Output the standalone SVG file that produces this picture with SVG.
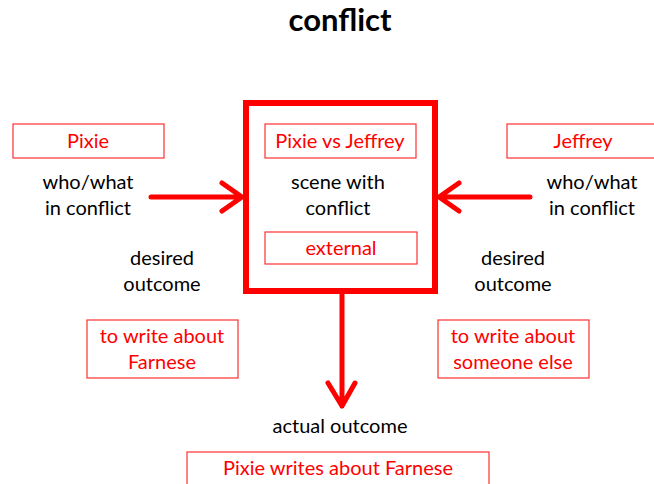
<svg xmlns="http://www.w3.org/2000/svg" width="654" height="484" viewBox="0 0 654 484">
<style>
text{font-family:Lato,"Liberation Sans",sans-serif;font-size:20px;text-anchor:middle}
.k{fill:#000}
.r{fill:#ff0000}
.b{fill:#fff;stroke:#ff3030;stroke-width:1.2}
.c{fill:none;stroke:#ff0000;stroke-width:5;stroke-linecap:round;stroke-linejoin:round}
</style>
<rect width="654" height="484" fill="#fff"/>
<text x="340" y="31" class="k" style="font-size:31px;font-weight:bold">conflict</text>
<g id="connectors">
<path class="c" d="M151 197H241M222 183L242 197L222 211"/>
<path class="c" d="M530 197H440M459 183L439 197L459 211"/>
<path class="c" d="M342 294V406M328 383L342 406L355 383"/>
</g>
<g id="scene">
<rect x="246" y="103" width="189" height="188" fill="none" stroke="#ff0000" stroke-width="6"/>
<rect class="b" x="265" y="124" width="151" height="34"/>
<text x="340" y="148" class="r">Pixie vs Jeffrey</text>
<text x="338" y="189" class="k">scene with</text>
<text x="338" y="215" class="k">conflict</text>
<rect class="b" x="265" y="232" width="152" height="32"/>
<text x="341" y="255" class="r">external</text>
</g>
<g id="pixie">
<rect class="b" x="13" y="124" width="151" height="34"/>
<text x="88" y="148" class="r">Pixie</text>
<text x="88" y="189" class="k">who/what</text>
<text x="88" y="215" class="k">in conflict</text>
</g>
<g id="jeffrey">
<rect class="b" x="507" y="124" width="152" height="34"/>
<text x="583" y="148" class="r">Jeffrey</text>
<text x="592" y="189" class="k">who/what</text>
<text x="592" y="215" class="k">in conflict</text>
</g>
<g id="pixie-desired">
<text x="162" y="265" class="k">desired</text>
<text x="162" y="291" class="k">outcome</text>
<rect class="b" x="87" y="320" width="151" height="58"/>
<text x="162" y="343" class="r">to write about</text>
<text x="162" y="369" class="r">Farnese</text>
</g>
<g id="jeffrey-desired">
<text x="513" y="265" class="k">desired</text>
<text x="513" y="291" class="k">outcome</text>
<rect class="b" x="438" y="320" width="151" height="58"/>
<text x="513" y="343" class="r">to write about</text>
<text x="513" y="369" class="r">someone else</text>
</g>
<g id="actual">
<text x="340" y="433" class="k">actual outcome</text>
<rect class="b" x="187" y="452" width="302" height="40"/>
<text x="338" y="475" class="r">Pixie writes about Farnese</text>
</g>
</svg>
